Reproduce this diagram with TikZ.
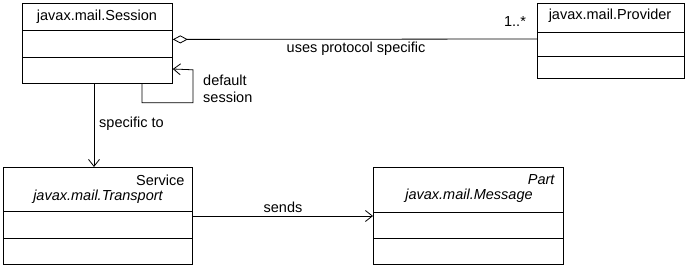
\documentclass[tikz,border=0pt]{standalone}
\usepackage{fontspec}
\setmainfont{Liberation Sans}
\usetikzlibrary{arrows.meta, calc}

\begin{document}
\begin{tikzpicture}[x = 1pt, y = -1pt,
            font = \fontsize{14.5}{16.5}\selectfont,
            classbox/.style = {draw, line width = 0.8pt, minimum width = #1, inner sep = 0pt, anchor = north west},
            divider/.style = {line width = 0.8pt},
            link/.style = {line width = 0.8pt},
            openarrow/.style = {link, -{Straight Barb[length = 7pt, width = 11pt]}},
            aggregate/.style = {link, {Diamond[open, length = 15pt, width = 8pt]}-}]
            \useasboundingbox (0,0) rectangle (690,268);
            % class boxes
            \node[classbox = 150pt, minimum height = 80pt] (session) at (22,3) {};
            \node[classbox = 147pt, minimum height = 75pt] (provider) at (537,3) {};
            \node[classbox = 189pt, minimum height = 97pt] (transport) at (3,167) {};
            \node[classbox = 190pt, minimum height = 97pt] (message) at (373,167) {};
            % compartments
            \draw[divider] (22,30) -- (172,30) (22,57) -- (172,57);
            \draw[divider] (537,32) -- (684,32) (537,56) -- (684,56);
            \draw[divider] (3,211) -- (192,211) (3,238) -- (192,238);
            \draw[divider] (373,212) -- (563,212) (373,238) -- (563,238);
            % class names
            \node (sessionname) at (97,17) {javax.mail.Session};
            \node (providername) at (610,16) {javax.mail.Provider};
            \node[anchor = east] (servicename) at (188,180) {Service};
            \node (transportname) at (98,197) {\itshape javax.mail.Transport};
            \node[anchor = east] (partname) at (558,180) {\itshape Part};
            \node (messagename) at (469,196) {\itshape javax.mail.Message};
            % connectors
            \draw[aggregate] ($(session.east)+(0,-4)$) -- (provider.west |- {0,39});
            \draw[openarrow] (session.south west -| {142,0}) -- ++(0,19) -| ++(51,-33) -- (session.east |- {0,69});
            \draw[openarrow] (session.south west -| {94,0}) -- (transport.north west -| {94,0});
            \draw[openarrow] (transport.east |- {0,216}) -- (message.west |- {0,216});
            % labels
            \node (multiplicity) at (515,22) {1..*};
            \node (useslabel) at (356,49) {uses protocol specific};
            \node[anchor = west, align = left, inner sep = 0pt] (defaultlabel) at (203,89) {default\\session};
            \node[anchor = west, inner sep = 0pt] (specificlabel) at (99,124) {specific to};
            \node (sendslabel) at (283,207) {sends};
        \end{tikzpicture}
\end{document}
